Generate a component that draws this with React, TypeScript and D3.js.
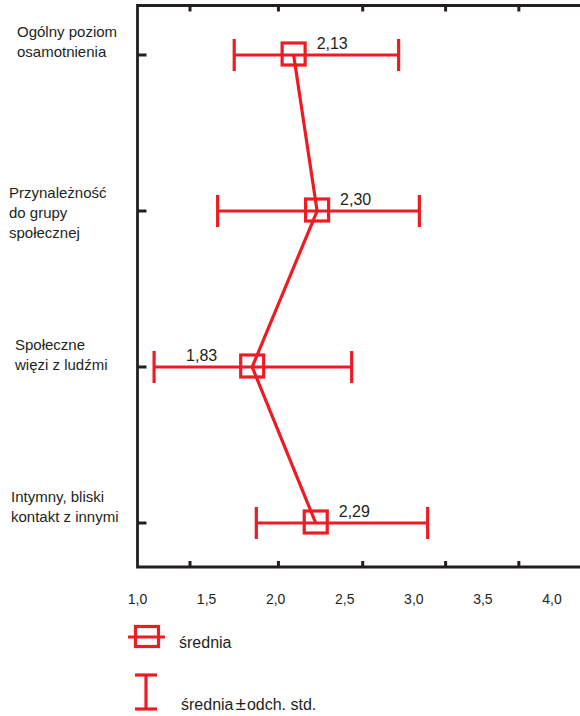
import React from "react";
import * as d3 from "d3";

// data
const categories = [
  ["Ogólny poziom", "osamotnienia"],
  ["Przynależność", "do grupy", "społecznej"],
  ["Społeczne", "więzi z ludźmi"],
  ["Intymny, bliski", "kontakt z innymi"],
];
const means = [2.13, 2.3, 1.83, 2.29];
const lower = [1.7, 1.58, 1.12, 1.86];
const upper = [2.89, 3.04, 2.55, 3.1];
const meanLabels = ["2,13", "2,30", "1,83", "2,29"];
const tickValues = [1.0, 1.5, 2.0, 2.5, 3.0, 3.5, 4.0];
// the printed tick marks don't line up with the labels in the original
const tickMarks = [1.38, 2.02, 2.63, 3.23, 3.76];
const labelSide = [1, 1, -1, 1];

// layout
const W = 580;
const H = 716;
const frame = { left: 137.5, top: 5.5, bottom: 567 };
const catX = [17, 9, 15, 11];
const catDy = [-18, -13, -17, -21];
const RED = "#ed1c24";
const INK = "#231f20";
const FONT = "'Liberation Sans', Arial, sans-serif";

export default function App() {
  const x = d3.scaleLinear().domain([1, 4]).range([frame.left, 552]);
  const y = d3
    .scalePoint<number>()
    .domain(d3.range(categories.length))
    .range([55, 523]);
  const fmt = (v: number) => d3.format(".1f")(v).replace(".", ",");

  const line = d3
    .line<number>()
    .x((d) => x(d))
    .y((_, i) => y(i)!);

  const box = 23;
  const cap = 16;

  return (
    <svg
      width={W}
      height={H}
      style={{ position: "absolute", left: 0, top: 0, background: "#fff" }}
      fontFamily={FONT}
    >
      {/* frame */}
      <path
        d={`M${x(4.3)},${frame.top}H${frame.left}V${frame.bottom}H${x(4.3)}`}
        fill="none"
        stroke={INK}
        strokeWidth={2.8}
      />
      {tickMarks.map((t) => (
        <g key={t} stroke={INK} strokeWidth={3}>
          <line x1={x(t)} x2={x(t)} y1={frame.bottom} y2={frame.bottom - 6} />
          <line x1={x(t)} x2={x(t)} y1={frame.top} y2={frame.top + 6} />
        </g>
      ))}
      {categories.map((_, i) => (
        <line
          key={i}
          x1={frame.left}
          x2={frame.left + 9}
          y1={y(i)!}
          y2={y(i)!}
          stroke={INK}
          strokeWidth={3}
        />
      ))}
      {tickValues.map((t) => (
        <text
          key={t}
          x={x(t)}
          y={604}
          textAnchor="middle"
          fontSize={14}
          fill={INK}
        >
          {fmt(t)}
        </text>
      ))}
      {categories.map((lines, i) => (
        <text key={i} fontSize={15} fill={INK}>
          {lines.map((l, j) => (
            <tspan key={j} x={catX[i]} y={y(i)! + catDy[i] + j * 20}>
              {l}
            </tspan>
          ))}
        </text>
      ))}

      {/* error bars */}
      {means.map((m, i) => (
        <g key={i} stroke={RED} strokeWidth={3.2} fill="none">
          <line x1={x(lower[i])} x2={x(upper[i])} y1={y(i)!} y2={y(i)!} />
          <line
            x1={x(lower[i])}
            x2={x(lower[i])}
            y1={y(i)! - cap}
            y2={y(i)! + cap}
          />
          <line
            x1={x(upper[i])}
            x2={x(upper[i])}
            y1={y(i)! - cap}
            y2={y(i)! + cap}
          />
        </g>
      ))}
      <path d={line(means)!} fill="none" stroke={RED} strokeWidth={3.2} />
      {means.map((m, i) => (
        <rect
          key={i}
          x={x(m) - box / 2}
          y={y(i)! - 1 - (box - 1) / 2}
          width={box}
          height={box - 1}
          fill="none"
          stroke={RED}
          strokeWidth={3.2}
        />
      ))}
      {means.map((m, i) => (
        <text
          key={i}
          x={labelSide[i] > 0 ? x(m) + 23 : x(m) - 35}
          y={y(i)! - 6}
          textAnchor={labelSide[i] > 0 ? "start" : "end"}
          fontSize={16}
          fill={INK}
        >
          {meanLabels[i]}
        </text>
      ))}

      {/* legend */}
      <g stroke={RED} strokeWidth={3.2} fill="none">
        <line x1={128} x2={165} y1={637} y2={637} />
        <rect x={135.5} y={626.5} width={23} height={20} />
        <line x1={146} x2={146} y1={675} y2={709} />
        <line x1={135} x2={157} y1={675} y2={675} />
        <line x1={135} x2={157} y1={709} y2={709} />
      </g>
      <text x={179} y={648} fontSize={16} fill={INK}>
        średnia
      </text>
      <text x={181} y={710} fontSize={16} fill={INK}>
        średnia<tspan fontSize={19} dx={2}>±</tspan>
        <tspan dx={1}>odch. std.</tspan>
      </text>
    </svg>
  );
}
